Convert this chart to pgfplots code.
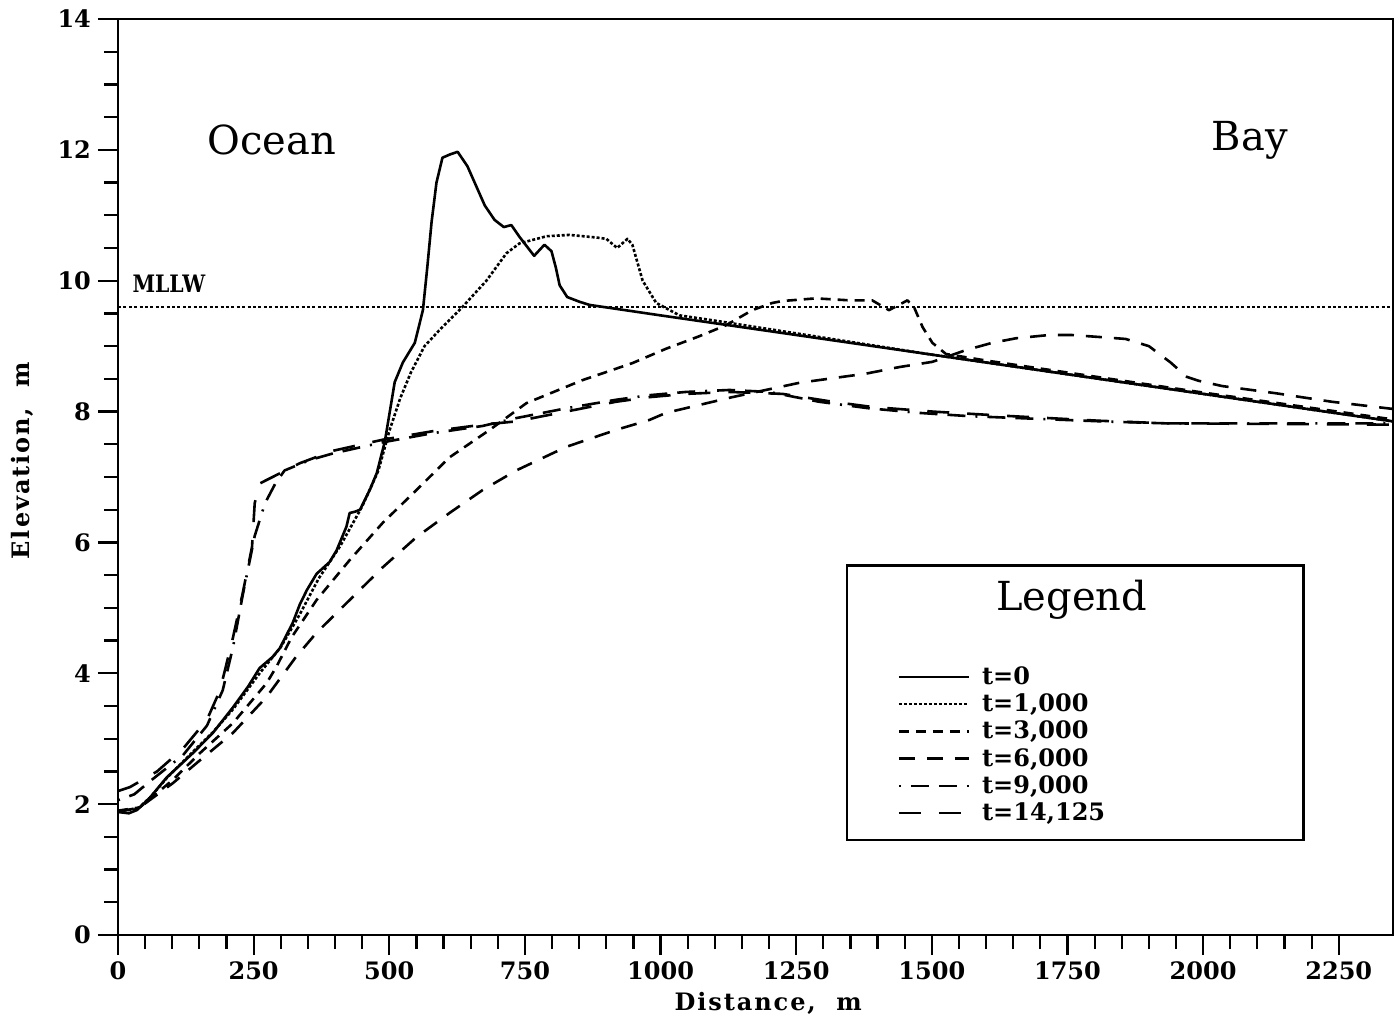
\documentclass[border=0pt]{standalone}
\usepackage{fontspec}
\setmainfont{DejaVu Serif}
\usepackage{pgfplots}
\pgfplotsset{compat=1.18}
\begin{document}
\begin{tikzpicture}
\begin{axis}[
  at={(0,0)}, anchor=south west,
  scale only axis, width=637.5pt, height=458pt,
  xmin=0, xmax=2350, ymin=0, ymax=14,
  xtick={0,250,500,750,1000,1250,1500,1750,2000,2250},
  xticklabels={0,250,500,750,1000,1250,1500,1750,2000,2250},
  ytick={0,2,4,6,8,10,12,14},
  yticklabels={0,2,4,6,8,10,12,14},
  minor x tick num=4, minor y tick num=3,
  tick align=outside, xtick pos=bottom, ytick pos=left,
  major tick length=10pt, minor tick length=7pt,
  axis line style={line width=1.3pt},
  every tick/.style={black, line width=1.1pt},
  tick label style={font=\bfseries\fontsize{12}{12}\selectfont},
  xlabel={Distance,\ \ m}, ylabel={Elevation,\ \ m},
  label style={font=\bfseries\fontsize{12}{12}\selectfont\addfontfeatures{LetterSpace=8}},
  xlabel style={at={(axis description cs:0.51,-0.0742)}, anchor=center},
  ylabel style={at={(axis description cs:-0.0753,0.518)}, anchor=center},
  legend style={at={(axis cs:1436,4.17)}, anchor=north west, draw=none, fill=none,
    inner sep=0pt, row sep=-0.8pt,
    font=\bfseries\fontsize{12}{13}\selectfont},
  legend cell align=left,
  legend image code/.code={\draw[#1] (0pt,0pt) -- (35pt,0pt); \path (39pt,0pt);},
  every axis plot/.append style={line width=1.3pt, line join=round, black},
]
% MLLW
\addplot[forget plot, line width=1pt, dash pattern=on 1.5pt off 1.2pt] coordinates {(0,9.6) (2350,9.6)};

% t=0
\addplot[solid] coordinates {
(0,1.88) (20,1.86) (35,1.91) (59,2.1) (90,2.41) (138,2.78) (175,3.09) (212,3.48) (240,3.8)
(261,4.08) (285,4.25) (298,4.38) (322,4.77) (335,5.05) (348,5.27) (366,5.52) (390,5.7)
(403,5.88) (421,6.24) (427,6.45) (437,6.47) (446,6.5) (464,6.8) (477,7.06) (492,7.55)
(510,8.45) (525,8.75) (547,9.05) (562,9.55) (570,10.2) (578,10.9) (587,11.5) (598,11.88)
(612,11.93) (626,11.97) (644,11.75) (660,11.45) (676,11.15) (694,10.93) (711,10.82)
(725,10.85) (740,10.67) (767,10.38) (786,10.55) (799,10.45) (807,10.2) (814,9.93)
(828,9.75) (850,9.68) (869,9.63) (1000,9.47) (1500,8.87) (2000,8.27) (2350,7.85)};
\addlegendentry{t=0}

% t=1000
\addplot[dash pattern=on 1.5pt off 1pt] coordinates {
(0,1.9) (35,1.92) (59,2.1) (90,2.4) (138,2.8) (175,3.1) (212,3.45) (261,4.0) (300,4.4)
(335,4.9) (370,5.45) (410,5.95) (450,6.55) (480,7.1) (500,7.7) (520,8.2) (540,8.6)
(565,9.0) (593,9.25) (635,9.6) (679,10.0) (716,10.42) (740,10.57) (790,10.68) (832,10.7)
(882,10.66) (900,10.64) (920,10.5) (939,10.64) (948,10.55) (967,10.0) (992,9.66)
(1035,9.47) (1100,9.39) (1500,8.87) (2000,8.27) (2350,7.85)};
\addlegendentry{t=1,000}

% t=3000
\addplot[dash pattern=on 5pt off 3.5pt] coordinates {
(0,1.9) (40,1.95) (101,2.37) (151,2.78) (212,3.24) (274,3.85) (292,4.1) (320,4.55)
(366,5.12) (396,5.42) (427,5.73) (488,6.3) (550,6.8) (611,7.3) (685,7.72) (753,8.13)
(856,8.48) (948,8.74) (1010,8.96) (1071,9.15) (1121,9.32) (1169,9.55) (1206,9.66)
(1225,9.69) (1286,9.73) (1348,9.7) (1390,9.7) (1421,9.55) (1446,9.66) (1455,9.7)
(1468,9.58) (1483,9.29) (1501,9.05) (1526,8.88) (1600,8.78) (2000,8.29) (2350,7.88)};
\addlegendentry{t=3,000}

% t=6000
\addplot[dash pattern=on 8pt off 6pt] coordinates {
(0,1.88) (40,1.95) (101,2.32) (151,2.67) (212,3.09) (274,3.64) (328,4.25) (366,4.62)
(427,5.12) (488,5.62) (550,6.08) (611,6.45) (672,6.8) (734,7.1) (826,7.46) (918,7.72)
(979,7.87) (1010,7.98) (1132,8.22) (1256,8.44) (1379,8.58) (1440,8.68) (1501,8.76)
(1563,8.94) (1611,9.05) (1655,9.12) (1716,9.17) (1758,9.17) (1808,9.14) (1857,9.11)
(1900,9.0) (1940,8.75) (1970,8.53) (1992,8.47) (2035,8.39) (2134,8.28) (2237,8.15)
(2350,8.04)};
\addlegendentry{t=6,000}

% t=9000
\addplot[dash pattern=on 1pt off 5pt on 9pt off 5pt on 9pt off 5pt] coordinates {
(0,2.06) (30,2.15) (59,2.35) (120,2.75) (164,3.2) (193,3.74) (212,4.4) (230,5.2)
(252,6.1) (271,6.6) (290,6.9) (307,7.1) (354,7.26) (396,7.36) (488,7.53) (580,7.67)
(672,7.78) (734,7.9) (826,8.05) (918,8.18) (979,8.25) (1047,8.3) (1127,8.33) (1200,8.3)
(1292,8.15) (1384,8.05) (1476,7.98) (1568,7.93) (1721,7.88) (1813,7.85) (1931,7.82)
(2053,7.82) (2176,7.82) (2350,7.82)};
\addlegendentry{t=9,000}

% t=14125
\addplot[dash pattern=on 11pt off 9pt] coordinates {
(0,2.2) (22,2.26) (72,2.5) (120,2.85) (164,3.29) (188,3.74) (212,4.55) (230,5.23)
(247,5.93) (252,6.6) (261,6.9) (285,7.0) (335,7.21) (396,7.4) (488,7.57) (580,7.7)
(672,7.8) (734,7.85) (826,8.0) (918,8.15) (979,8.22) (1047,8.27) (1127,8.3) (1225,8.27)
(1317,8.15) (1390,8.07) (1501,8.0) (1624,7.94) (1808,7.86) (1931,7.82) (2350,7.8)};
\addlegendentry{t=14,125}

\draw[line width=1.2pt] (axis cs:1344,5.65) rectangle (axis cs:2185,1.45);
\node[font=\fontsize{20}{20}\selectfont] at (axis cs:1758,5.12) {Legend};
\node[font=\fontsize{20}{20}\selectfont] at (axis cs:283,12.15) {Ocean};
\node[font=\fontsize{20}{20}\selectfont] at (axis cs:2086,12.15) {Bay};
\node[font=\bfseries\fontsize{12}{12}\selectfont\addfontfeatures{FakeStretch=0.85}, anchor=west, inner sep=0pt] at (axis cs:26,9.95) {MLLW};
\end{axis}
\pgfresetboundingbox
\path (-59pt,-43pt) rectangle (638.5pt,467.5pt);
\end{tikzpicture}
\end{document}
